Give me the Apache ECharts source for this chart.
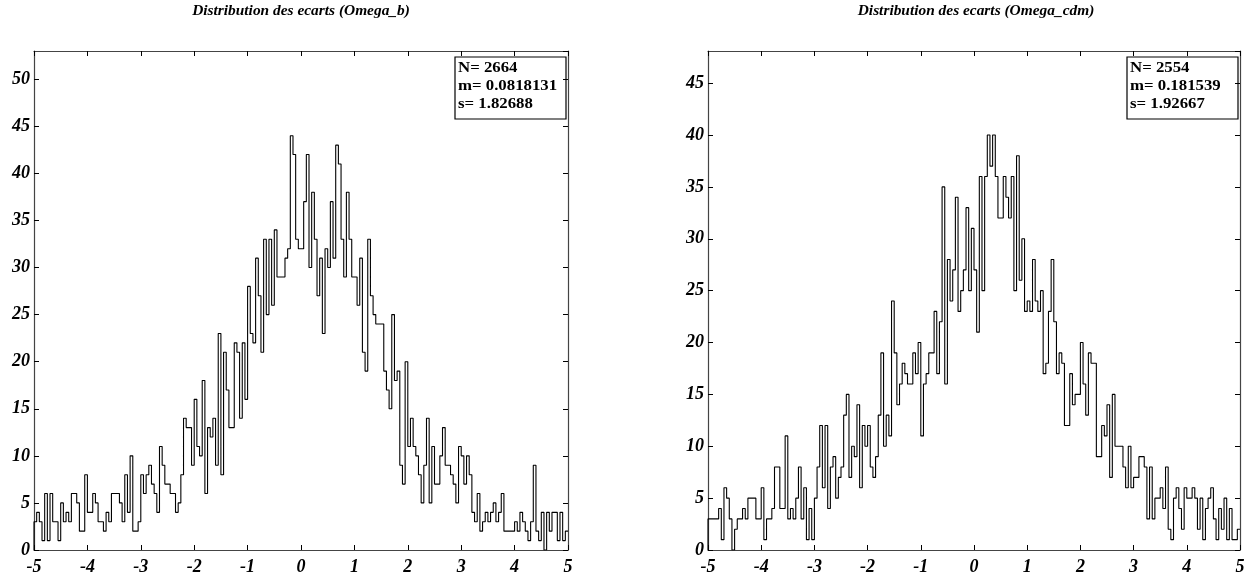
<!DOCTYPE html>
<html><head><meta charset="utf-8">
<script src="https://cdn.jsdelivr.net/npm/echarts@6/dist/echarts.min.js"></script>
<style>html,body{margin:0;padding:0;background:#fff}#c{width:1251px;height:577px}</style>
</head><body><div id="c"></div>
<script>
// ---- data ----
const binStart = -5;
const binWidth = 0.05;
const omegaB = [
 3,4,3,1,6,1,6,3,3,1,
 5,3,4,3,6,6,5,2,2,8,
 4,4,6,5,3,3,2,4,3,6,
 6,6,5,3,8,4,10,2,2,3,
 8,6,8,9,7,6,4,11,9,7,
 7,6,6,4,5,8,14,13,13,9,
 16,11,10,18,6,13,12,14,9,23,
 8,21,17,13,13,22,21,14,22,16,
 28,23,22,31,27,21,33,25,33,26,
 34,29,29,29,31,32,44,42,33,32,
 32,37,42,30,38,33,27,31,23,32,
 30,37,31,43,41,33,29,38,33,29,
 29,26,31,21,19,33,27,25,24,24,
 24,19,17,15,25,18,19,9,7,20,
 11,14,11,10,8,5,9,14,5,11,
 7,7,10,13,9,9,8,7,5,11,
 10,7,10,8,4,3,6,2,3,4,
 3,4,5,3,4,6,2,2,2,2,
 3,2,4,3,2,1,3,9,2,1,
 4,0,4,2,4,4,1,4,1,2
];
const omegaCdm = [
 3,3,3,3,4,1,6,5,3,0,
 2,3,3,4,3,5,5,5,3,3,
 6,1,3,3,4,8,8,4,4,11,
 3,4,3,5,8,3,6,1,4,1,
 5,8,12,6,12,4,8,9,5,7,
 8,13,15,7,10,9,14,6,12,10,
 12,8,7,9,13,19,10,13,11,24,
 19,14,16,18,17,16,16,19,17,20,
 11,16,17,19,19,23,17,22,35,16,
 28,24,27,34,23,25,27,33,25,31,
 27,21,36,25,36,40,37,40,36,32,
 32,36,34,32,36,25,38,26,30,23,
 24,23,28,24,23,25,17,18,23,28,
 22,17,19,18,12,12,17,14,15,15,
 20,16,13,19,18,18,9,9,12,11,
 14,7,15,10,10,10,8,6,10,6,
 7,7,9,9,8,3,8,3,5,5,
 6,4,8,2,1,5,6,4,2,6,
 5,5,6,5,2,5,1,4,5,6,
 3,1,4,2,5,1,4,1,1,2
];
const titles = ['Distribution des ecarts (Omega_b)', 'Distribution des ecarts (Omega_cdm)'];
const statsB = ['N= 2664', 'm= 0.0818131', 's= 1.82688'];
const statsCdm = ['N= 2554', 'm= 0.181539', 's= 1.92667'];
const xRange = [-5, 5];
const yMaxB = 53, yMaxCdm = 48.1;

// ---- build ----
function steps(vals) {
  const d = [[binStart, 0]];
  vals.forEach((v, i) => d.push([+(binStart + i * binWidth).toFixed(3), v]));
  d.push([+(binStart + vals.length * binWidth).toFixed(3), vals[vals.length - 1]]);
  return d;
}
const FONT = 'Liberation Serif';
const axisCol = '#444';
const lblStyle = { fontFamily: FONT, fontStyle: 'italic', fontWeight: 'bold', fontSize: 18, color: '#000' };
const grids = [
  { left: 34, width: 534, top: 51, height: 499 },
  { left: 708, width: 532, top: 51, height: 499 }
];
const xAxes = [], yAxes = [];
[0, 1].forEach(g => {
  xAxes.push({ type: 'value', gridIndex: g, min: xRange[0], max: xRange[1], interval: 1, position: 'bottom',
    axisLine: { onZero: false, lineStyle: { color: axisCol, width: 1.2 } },
    axisTick: { inside: true, length: 5, lineStyle: { color: '#000' } },
    splitLine: { show: false },
    axisLabel: Object.assign({ margin: 8 }, lblStyle) });
  xAxes.push({ type: 'value', gridIndex: g, min: xRange[0], max: xRange[1], interval: 1, position: 'top',
    axisLine: { onZero: false, lineStyle: { color: axisCol, width: 1.2 } },
    axisTick: { inside: true, length: 5, lineStyle: { color: '#000' } },
    splitLine: { show: false }, axisLabel: { show: false } });
  const ymax = g === 0 ? yMaxB : yMaxCdm;
  yAxes.push({ type: 'value', gridIndex: g, min: 0, max: ymax, interval: 5, position: 'left',
    axisLine: { show: true, onZero: false, lineStyle: { color: axisCol, width: 1.2 } },
    axisTick: { show: true, inside: true, length: 5, lineStyle: { color: '#000' } },
    splitLine: { show: false },
    axisLabel: Object.assign({ margin: 4, showMaxLabel: false,
      formatter: v => (Math.abs(v % 5) < 1e-9 ? String(v) : '') }, lblStyle) });
  yAxes.push({ type: 'value', gridIndex: g, min: 0, max: ymax, interval: 5, position: 'right',
    axisLine: { show: true, onZero: false, lineStyle: { color: axisCol, width: 1.2 } },
    axisTick: { show: true, inside: true, length: 5, lineStyle: { color: '#000' } },
    splitLine: { show: false }, axisLabel: { show: false } });
});

function statBox(cx, lines) {
  const w = 111, h = 62;
  const children = [{ type: 'rect', shape: { x: 0, y: 0, width: w, height: h },
    style: { fill: '#fff', stroke: '#000', lineWidth: 1.2 } }];
  lines.forEach((t, i) => children.push({ type: 'text', x: 3, y: 11 + i * 18, scaleX: 1.2,
    style: { text: t, font: 'bold 14px "Liberation Serif"', fill: '#000', verticalAlign: 'middle' } }));
  return { type: 'group', x: cx, y: 57, z: 100, children };
}
function titleText(cx, t) {
  return { type: 'text', x: cx, y: 4, scaleX: 1.1,
    style: { text: t, font: 'italic bold 14px "Liberation Serif"', fill: '#000', align: 'center', verticalAlign: 'top' } };
}

const option = {
  animation: false,
  backgroundColor: '#fff',
  grid: grids,
  xAxis: xAxes,
  yAxis: yAxes,
  graphic: [
    titleText(301, titles[0]),
    titleText(976, titles[1]),
    statBox(455, statsB),
    statBox(1127, statsCdm)
  ],
  series: [
    { type: 'line', xAxisIndex: 0, yAxisIndex: 0, step: 'end', symbol: 'none', data: steps(omegaB),
      lineStyle: { color: '#000', width: 1.1 }, clip: true },
    { type: 'line', xAxisIndex: 2, yAxisIndex: 2, step: 'end', symbol: 'none', data: steps(omegaCdm),
      lineStyle: { color: '#000', width: 1.1 }, clip: true }
  ]
};
const chart = echarts.init(document.getElementById('c'), null, { renderer: 'canvas' });
chart.setOption(option);
</script></body></html>
